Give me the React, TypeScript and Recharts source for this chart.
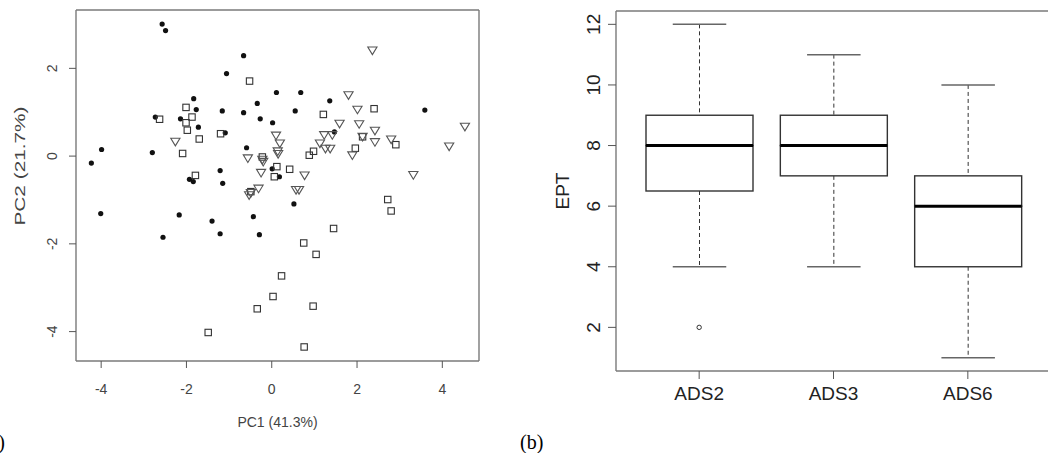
import React from 'react';
import { ScatterChart, Scatter, ComposedChart, Bar, XAxis, YAxis, CartesianGrid, Label } from 'recharts';

// (a) PCA scores, three groups of sites
const dotPc1 = [-2.57, -2.49, -0.66, -1.06, -1.83, -1.77, -1.16, -0.66, -2.73, -2.14, -1.72, -1.09, -3.99, -2.8, -0.59, -4.23, -1.21, -1.93, -1.84, 0.01, 0.18, -1.15, 0.11, 0.68, -0.34, 1.36, 0.55, -0.27, 0.02, 1.47, 3.59, -1.21, 0.52, -4.01, -2.17, -1.4, -0.43, -2.55, -0.29];
const dotPc2 = [3.01, 2.86, 2.29, 1.88, 1.31, 1.06, 1.03, 0.99, 0.89, 0.85, 0.66, 0.53, 0.15, 0.08, 0.19, -0.16, -0.33, -0.53, -0.58, -0.29, -0.47, -0.62, 1.45, 1.45, 1.2, 1.26, 1.03, 0.85, 0.76, 0.55, 1.05, -1.77, -1.09, -1.31, -1.34, -1.48, -1.38, -1.85, -1.79];

const squarePc1 = [-0.52, -2.01, -2.63, -1.87, -2.01, -1.98, -1.7, -1.2, -2.09, -1.79, 1.21, 2.4, 2.13, 2.91, 1.96, 0.98, 0.88, 0.12, 0.42, 0.06, -0.49, 2.72, 2.8, 1.45, 0.75, 1.04, 0.23, 0.03, -0.34, 0.97, -1.49, 0.76, -0.22];
const squarePc2 = [1.71, 1.11, 0.84, 0.89, 0.76, 0.59, 0.39, 0.51, 0.06, -0.44, 0.95, 1.08, 0.44, 0.26, 0.18, 0.11, 0.02, -0.24, -0.3, -0.47, -0.81, -0.99, -1.25, -1.65, -1.98, -2.24, -2.73, -3.2, -3.48, -3.42, -4.02, -4.35, -0.02];

const trianglePc1 = [-2.26, 2.36, 1.8, 2.01, 1.59, 2.05, 2.42, 4.53, 1.23, 1.42, 2.13, 2.42, 2.8, 4.16, 1.13, 1.26, 1.37, 1.89, 0.1, 0.19, 0.14, 0.15, -0.56, -0.22, -0.2, -0.25, 0.77, 3.32, -0.31, -0.53, -0.49, 0.57, 0.64];
const trianglePc2 = [0.33, 2.41, 1.39, 1.06, 0.74, 0.73, 0.58, 0.67, 0.48, 0.48, 0.44, 0.32, 0.38, 0.22, 0.29, 0.17, 0.17, 0.02, 0.47, 0.29, 0.11, 0.05, -0.05, -0.08, -0.13, -0.38, -0.44, -0.43, -0.74, -0.89, -0.84, -0.77, -0.77];

const pc1Ticks = [-4, -2, 0, 2, 4];
const pc2Ticks = [-4, -2, 0, 2];

// (b) EPT box plot
const sites = ['ADS2', 'ADS3', 'ADS6'];
const eptMin = [4, 4, 1];
const eptQ1 = [6.5, 7, 4];
const eptMedian = [8, 8, 6];
const eptQ3 = [9, 9, 7];
const eptMax = [12, 11, 10];
const eptOutlier = [2, null, null];
const eptTicks = [2, 4, 6, 8, 10, 12];

const toPoints = (xs: number[], ys: number[]) => xs.map((x, i) => ({ pc1: x, pc2: ys[i] }));

const boxData = sites.map((site, i) => ({
  site,
  base: eptMin[i],
  lowWhisker: eptQ1[i] - eptMin[i],
  lowBox: eptMedian[i] - eptQ1[i],
  highBox: eptQ3[i] - eptMedian[i],
  highWhisker: eptMax[i] - eptQ3[i],
  outlier: eptOutlier[i],
}));

const SANS = 'Arial, "Liberation Sans", sans-serif';
const frameH = ({ offset }: any) => [offset.top, offset.top + offset.height];
const frameV = ({ offset }: any) => [offset.left, offset.left + offset.width];

const RotTick = (p: any) => (
  <text x={p.x} y={p.y} transform={`rotate(-90 ${p.x} ${p.y})`} textAnchor="middle"
    fontSize={p.size} fill={p.color} fontFamily={SANS}>{p.payload.value}</text>
);

const DotMark = (p: any) => <circle cx={p.cx} cy={p.cy} r={2.6} fill="#111" />;
const SquareMark = (p: any) => (
  <rect x={p.cx - 3.2} y={p.cy - 3.2} width={6.4} height={6.4} fill="none" stroke="#333" strokeWidth={1.1} />
);
const TriangleMark = (p: any) => (
  <path d={`M${p.cx - 4.6},${p.cy - 3.4}L${p.cx + 4.6},${p.cy - 3.4}L${p.cx},${p.cy + 4.2}Z`}
    fill="none" stroke="#555" strokeWidth={1.1} />
);

const LowerWhisker = (p: any) => {
  const cx = p.x + p.width / 2;
  const cap = p.width * 0.25;
  return (
    <g>
      <line x1={cx} x2={cx} y1={p.y} y2={p.y + p.height} stroke="#333" strokeDasharray="4 3" />
      <line x1={cx - cap} x2={cx + cap} y1={p.y + p.height} y2={p.y + p.height} stroke="#666" strokeWidth={1.5} />
    </g>
  );
};
const UpperWhisker = (p: any) => {
  const cx = p.x + p.width / 2;
  const cap = p.width * 0.25;
  return (
    <g>
      <line x1={cx} x2={cx} y1={p.y} y2={p.y + p.height} stroke="#333" strokeDasharray="4 3" />
      <line x1={cx - cap} x2={cx + cap} y1={p.y} y2={p.y} stroke="#666" strokeWidth={1.5} />
    </g>
  );
};
const LowerBox = (p: any) => (
  <rect x={p.x} y={p.y} width={p.width} height={p.height} fill="#fff" stroke="#333" strokeWidth={1.4} />
);
const UpperBox = (p: any) => (
  <g>
    <rect x={p.x} y={p.y} width={p.width} height={p.height} fill="#fff" stroke="#333" strokeWidth={1.4} />
    <line x1={p.x} x2={p.x + p.width} y1={p.y + p.height} y2={p.y + p.height} stroke="#000" strokeWidth={3} />
  </g>
);
const OutlierMark = (p: any) =>
  p.payload?.outlier == null ? <g /> : <circle cx={p.cx} cy={p.cy} r={2.2} fill="none" stroke="#333" strokeWidth={1} />;

export default function App() {
  return (
    <div style={{ position: 'absolute', left: 0, top: 0, width: 1048, height: 453, overflow: 'hidden', background: '#fff' }}>
      <div style={{ position: 'absolute', left: 0, top: 0 }}>
        <ScatterChart width={490} height={453} margin={{ top: 10, right: 11, bottom: 0, left: 0 }}>
          <CartesianGrid stroke="#7a7a7a" strokeWidth={1.4} horizontalCoordinatesGenerator={frameH} verticalCoordinatesGenerator={frameV} />
          <XAxis type="number" dataKey="pc1" domain={[-4.59, 4.86]} ticks={pc1Ticks} allowDataOverflow interval={0}
            height={92} axisLine={false} tickSize={7} tickMargin={16}
            tickLine={{ stroke: '#555' }} tick={{ fontSize: 14, fill: '#444', fontFamily: SANS }}>
            <Label value="PC1 (41.3%)" position="insideBottom" offset={26} style={{ fontSize: 14, fill: '#444', fontFamily: SANS }} />
          </XAxis>
          <YAxis type="number" dataKey="pc2" domain={[-4.67, 3.33]} ticks={pc2Ticks} allowDataOverflow interval={0}
            width={76} axisLine={false} tickSize={7} tickMargin={12} tickLine={{ stroke: '#555' }}
            tick={(p: any) => <RotTick {...p} size={14} color="#444" />}>
            <Label content={() => (
              <text x={25} y={166} transform="rotate(-90 25 166)" textAnchor="middle" fontSize={14}
                textLength={119} lengthAdjust="spacingAndGlyphs" fill="#444" fontFamily={SANS}>PC2 (21.7%)</text>
            )} />
          </YAxis>
          <Scatter name="Group 1" data={toPoints(dotPc1, dotPc2)} shape={DotMark} isAnimationActive={false} />
          <Scatter name="Group 2" data={toPoints(squarePc1, squarePc2)} shape={SquareMark} isAnimationActive={false} />
          <Scatter name="Group 3" data={toPoints(trianglePc1, trianglePc2)} shape={TriangleMark} isAnimationActive={false} />
        </ScatterChart>
      </div>

      <div style={{ position: 'absolute', left: 520, top: 0 }}>
        <ComposedChart width={531} height={453} data={boxData} margin={{ top: 11, right: 0, bottom: 0, left: 0 }}>
          <CartesianGrid stroke="#7a7a7a" strokeWidth={1.4} horizontalCoordinatesGenerator={frameH} verticalCoordinatesGenerator={frameV} />
          <XAxis dataKey="site" type="category" padding={{ left: 16, right: 16 }} height={82} axisLine={false}
            tickSize={8} tickMargin={7.5} tickLine={{ stroke: '#555' }} interval={0}
            tick={{ fontSize: 19, fill: '#222', fontFamily: SANS }} />
          <YAxis type="number" domain={[0.56, 12.44]} ticks={eptTicks} allowDataOverflow interval={0}
            width={96} axisLine={false} tickSize={8} tickMargin={8} tickLine={{ stroke: '#555' }}
            tick={(p: any) => <RotTick {...p} size={19} color="#222" />}>
            <Label content={({ viewBox }: any) => {
              const cx = viewBox.x + 42;
              const cy = viewBox.y + viewBox.height / 2;
              return (
                <text x={cx} y={cy} transform={`rotate(-90 ${cx} ${cy})`} textAnchor="middle" dominantBaseline="central"
                  fontSize={19} fill="#222" fontFamily={SANS}>EPT</text>
              );
            }} />
          </YAxis>
          <Bar dataKey="base" stackId="box" barSize={107} shape={() => <g />} isAnimationActive={false} />
          <Bar dataKey="lowWhisker" stackId="box" barSize={107} shape={LowerWhisker} isAnimationActive={false} />
          <Bar dataKey="lowBox" stackId="box" barSize={107} shape={LowerBox} isAnimationActive={false} />
          <Bar dataKey="highBox" stackId="box" barSize={107} shape={UpperBox} isAnimationActive={false} />
          <Bar dataKey="highWhisker" stackId="box" barSize={107} shape={UpperWhisker} isAnimationActive={false} />
          <Scatter dataKey="outlier" shape={OutlierMark} isAnimationActive={false} />
        </ComposedChart>
      </div>

      <svg width={1048} height={453} style={{ position: 'absolute', left: 0, top: 0, pointerEvents: 'none' }}>
        <text x={5} y={449} textAnchor="end" fontSize={20} fontFamily='"Liberation Serif", "Times New Roman", serif' fill="#000">(a)</text>
        <text x={520} y={449} fontSize={20} fontFamily='"Liberation Serif", "Times New Roman", serif' fill="#000">(b)</text>
      </svg>
    </div>
  );
}
